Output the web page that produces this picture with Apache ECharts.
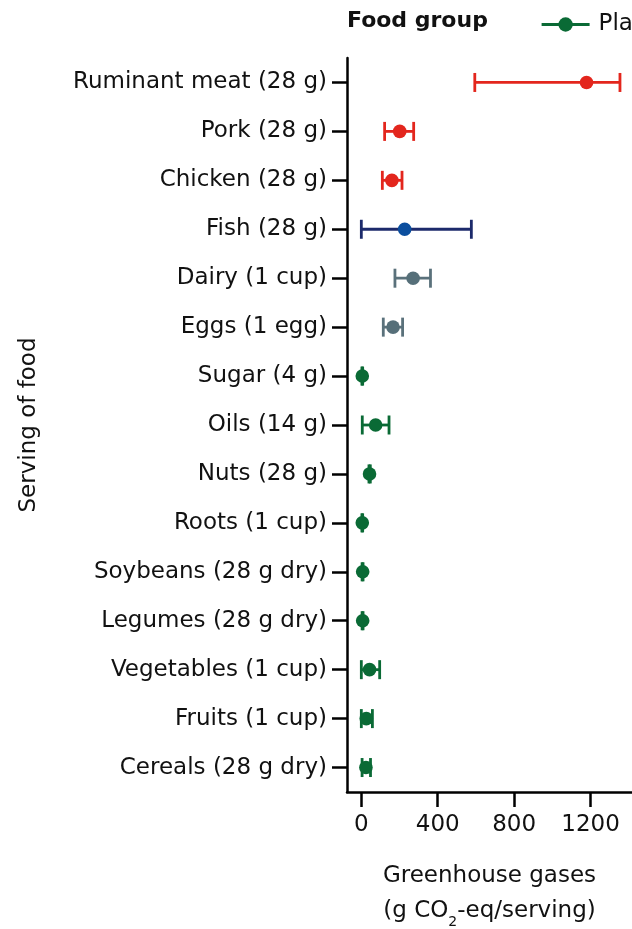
<!DOCTYPE html>
<html>
<head>
<meta charset="utf-8">
<script src="https://cdn.jsdelivr.net/npm/echarts@6/dist/echarts.min.js"></script>
<style>
html,body{margin:0;padding:0;background:#fff;}
#chart{width:632px;height:929px;}
</style>
</head>
<body>
<div id="chart"></div>
<script>
const categories = [
  'Ruminant meat (28 g)', 'Pork (28 g)', 'Chicken (28 g)', 'Fish (28 g)',
  'Dairy (1 cup)', 'Eggs (1 egg)', 'Sugar (4 g)', 'Oils (14 g)', 'Nuts (28 g)',
  'Roots (1 cup)', 'Soybeans (28 g dry)', 'Legumes (28 g dry)',
  'Vegetables (1 cup)', 'Fruits (1 cup)', 'Cereals (28 g dry)'
];
const foodGroups = ['meat','meat','meat','fish','animal','animal',
  'plant','plant','plant','plant','plant','plant','plant','plant','plant'];
const lowValues  = [594, 122, 110,   0, 176, 115,  3,   5, 40, 3, 4, 4,  0,  0,  4];
const meanValues = [1179, 201, 160, 227, 271, 166, 5,  75, 43, 5, 7, 7, 43, 26, 24];
const highValues = [1354, 274, 213, 576, 362, 216, 7, 145, 47, 7, 9, 9, 96, 58, 48];
const xTickValues = [0, 400, 800, 1200];
const legendNames = ['Plant-based'];

const FONT = 'DejaVu Sans';
const groupStyle = {
  meat:   { bar: '#e3261d', dot: '#e3261d' },
  fish:   { bar: '#1c2a6b', dot: '#0b4e9e' },
  animal: { bar: '#5a717b', dot: '#566f79' },
  plant:  { bar: '#0a6a35', dot: '#0a6a35' }
};

const chart = echarts.init(document.getElementById('chart'));
const data = categories.map((c, i) => [i, lowValues[i], meanValues[i], highValues[i]]);

function renderItem(params, api) {
  const yi = api.value(0);
  const pL = api.coord([api.value(1), yi]);
  const pM = api.coord([api.value(2), yi]);
  const pH = api.coord([api.value(3), yi]);
  const st = groupStyle[foodGroups[params.dataIndex]];
  const lw = 2.8, cap = 9.5;
  const ls = { stroke: st.bar, lineWidth: lw };
  return {
    type: 'group',
    children: [
      { type: 'line', shape: { x1: pL[0], y1: pL[1], x2: pH[0], y2: pH[1] }, style: ls },
      { type: 'line', shape: { x1: pL[0], y1: pL[1] - cap, x2: pL[0], y2: pL[1] + cap }, style: ls },
      { type: 'line', shape: { x1: pH[0], y1: pH[1] - cap, x2: pH[0], y2: pH[1] + cap }, style: ls },
      { type: 'circle', shape: { cx: pM[0], cy: pM[1], r: 6.8 }, style: { fill: st.dot } }
    ]
  };
}

chart.setOption({
  animation: false,
  backgroundColor: '#fff',
  title: {
    text: 'Food group',
    left: 347, top: 10, padding: 0,
    textStyle: { fontFamily: FONT, fontSize: 22, fontWeight: 'bold', color: '#111' }
  },
  legend: {
    data: legendNames,
    left: 540, top: 13, padding: 0,
    itemWidth: 48, itemHeight: 18,
    lineStyle: { width: 3.2 },
    textStyle: { fontFamily: FONT, fontSize: 23, color: '#111', padding: [0, 0, 0, 4] }
  },
  grid: { left: 347, right: 0, top: 58, bottom: 137, outerBoundsMode: 'none' },
  xAxis: {
    type: 'value',
    min: -75, max: 1417,
    name: '{a|Greenhouse gases}\n{a|(g CO}{s|2}{a|-eq/serving)}',
    nameLocation: 'middle',
    nameGap: 67,
    nameTextStyle: {
      fontFamily: FONT, color: '#111',
      rich: {
        a: { fontFamily: FONT, fontSize: 23, lineHeight: 35, color: '#111' },
        s: { fontFamily: FONT, fontSize: 14, lineHeight: 16, verticalAlign: 'bottom', color: '#111' }
      }
    },
    splitLine: { show: false },
    axisLine: { show: true, onZero: false, lineStyle: { color: '#000', width: 2.5 } },
    axisTick: { show: true, customValues: xTickValues, length: 15, lineStyle: { color: '#000', width: 2.5 } },
    axisLabel: {
      customValues: xTickValues, margin: 22, fontFamily: FONT, fontSize: 23, color: '#111',
      formatter: v => String(v)
    }
  },
  yAxis: {
    type: 'category',
    data: categories,
    inverse: true,
    name: 'Serving of food',
    nameLocation: 'middle',
    nameGap: 306,
    nameTextStyle: { fontFamily: FONT, fontSize: 23, color: '#111' },
    axisLine: { show: true, onZero: false, lineStyle: { color: '#000', width: 2.5 } },
    axisTick: { show: true, alignWithLabel: true, length: 15, lineStyle: { color: '#000', width: 2.5 } },
    axisLabel: { margin: 20, fontFamily: FONT, fontSize: 23, color: '#111' },
    splitLine: { show: false }
  },
  series: [
    {
      name: 'Food group values',
      type: 'custom',
      renderItem: renderItem,
      encode: { y: 0, x: [1, 2, 3] },
      data: data
    },
    {
      name: 'Plant-based',
      type: 'line',
      data: [],
      symbol: 'circle',
      symbolSize: 14,
      itemStyle: { color: '#0a6a35' },
      lineStyle: { color: '#0a6a35', width: 3.2 }
    }
  ]
});
</script>
</body>
</html>
